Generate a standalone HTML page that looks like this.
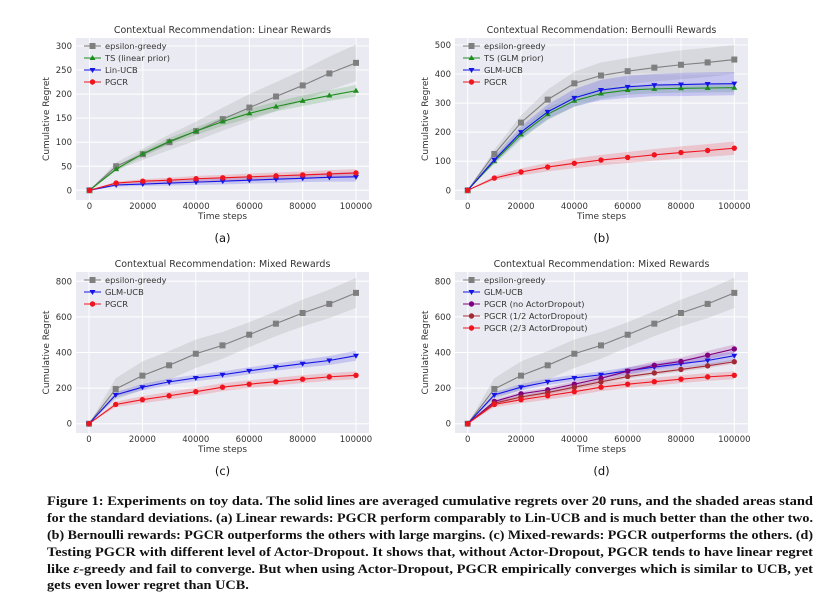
<!DOCTYPE html>
<html><head><meta charset="utf-8">
<style>
body{margin:0;background:#fff;width:819px;height:601px;overflow:hidden}
svg text{font-family:"DejaVu Sans","Liberation Sans",sans-serif}
.cap{position:absolute;left:47px;top:493px;width:766px;font-family:"Liberation Serif",serif;font-weight:bold;font-size:13px;line-height:16.9px;color:#111}
.cap div{white-space:nowrap;height:16.9px}
.cap span{display:inline-block;white-space:nowrap;transform-origin:0 50%}
</style></head><body>
<svg id="fig" width="819" height="490" style="position:absolute;left:0;top:0"></svg>
<div class="cap">
<div><span class="fit">Figure 1: Experiments on toy data. The solid lines are averaged cumulative regrets over 20 runs, and the shaded areas stand</span></div>
<div><span class="fit">for the standard deviations. (a) Linear rewards: PGCR perform comparably to Lin-UCB and is much better than the other two.</span></div>
<div><span class="fit">(b) Bernoulli rewards: PGCR outperforms the others with large margins. (c) Mixed-rewards: PGCR outperforms the others. (d)</span></div>
<div><span class="fit">Testing PGCR with different level of Actor-Dropout. It shows that, without Actor-Dropout, PGCR tends to have linear regret</span></div>
<div><span class="fit">like <i>ε</i>-greedy and fail to converge. But when using Actor-Dropout, PGCR empirically converges which is similar to UCB, yet</span></div>
<div><span class="last">gets even lower regret than UCB.</span></div>
</div>
<script>
const steps=[0,10000,20000,30000,40000,50000,60000,70000,80000,90000,100000];
const xTicks=[0,20000,40000,60000,80000,100000];
// panel a
const aEps=[0,50,75,100,123,148,172,195,218,243,265];
const aEpsSd=[0,8,12,16,20,24,28,30,32,35,38];
const aTS=[0,44,76,102,123,143,160,174,186,197,207];
const aTSSd=[0,4,6,7,8,9,10,10,11,11,12];
const aUCB=[0,11,13,15,17,19,21,23,25,27,28];
const aUCBSd=[0,3,4,5,6,7,7,8,8,9,10];
const aPG=[0,15,19,21,24,26,28,30,32,34,36];
const aPGSd=[0,3,4,5,6,6,7,7,7,8,8];
const aYTicks=[0,50,100,150,200,250,300];
// panel b
const bEps=[0,125,233,312,368,395,410,422,432,440,450];
const bEpsSd=[0,15,25,35,40,45,45,48,50,50,50];
const bTS=[0,100,192,262,308,333,345,349,351,352,353];
const bTSSd=[0,10,18,20,20,18,16,15,15,15,15];
const bUCB=[0,105,200,270,318,345,356,362,364,366,367];
const bUCBSd=[0,12,20,25,30,35,38,38,40,40,40];
const bPG=[0,42,63,80,93,104,113,122,130,137,145];
const bPGSd=[0,8,12,15,17,18,19,20,21,22,23];
const bYTicks=[0,100,200,300,400,500];
// panel c / d
const cEps=[0,195,270,328,393,440,500,562,622,673,735];
const cEpsSd=[0,60,80,80,80,75,70,70,75,80,85];
const cUCB=[0,162,205,235,257,275,297,318,337,355,382];
const cUCBSd=[0,15,18,18,18,18,20,20,22,25,28];
const cPG=[0,108,135,157,180,205,222,236,250,263,272];
const cPGSd=[0,15,20,22,22,22,22,22,22,22,22];
const dNo=[0,125,168,190,222,255,295,328,350,385,420];
const dNoSd=[0,10,12,14,16,18,20,22,22,24,25];
const dHalf=[0,115,150,175,205,235,265,285,305,325,348];
const dHalfSd=[0,8,10,10,12,12,12,12,12,12,12];
const cYTicks=[0,200,400,600,800];

let scSum=0,scN=0;
document.querySelectorAll('.cap .fit').forEach(s=>{const w=s.getBoundingClientRect().width;const sc=766/w;scSum+=sc;scN++;s.style.transform='scaleX('+sc+')';});
document.querySelectorAll('.cap .last').forEach(s=>{s.style.transform='scaleX('+(scSum/scN)+')';});

const NS="http://www.w3.org/2000/svg";
const svg=document.getElementById('fig');
function mk(tag,attrs,parent){const e=document.createElementNS(NS,tag);for(const k in attrs)e.setAttribute(k,attrs[k]);(parent||svg).appendChild(e);return e;}
const COL={gray:'#7f7f7f',green:'#1e8c1e',blue:'#1414e6',red:'#f0141e',purple:'#800080',brown:'#a22a35'};

function panel(p){
  const g=mk('g',{});
  
  
  const X=v=>p.x0+(v/100000)*(p.x1-p.x0);
  const Y=v=>p.y0-(v/p.yMax)*(p.y0-p.yTop);
  const bg=mk('rect',{x:p.bx0,y:p.by0,width:p.bx1-p.bx0,height:p.by1-p.by0,fill:'#eaeaf2'},g);
  
  
  xTicks.forEach(t=>{
    mk('line',{x1:X(t),x2:X(t),y1:p.by0,y2:p.by1,stroke:'#fff','stroke-width':1},g);
    const tx=mk('text',{x:X(t),y:p.by1+9,'font-size':8.5,'text-anchor':'middle',fill:'#333'},g);tx.textContent=t;
    
    
  });
  p.yTicks.forEach(t=>{
    mk('line',{x1:p.bx0,x2:p.bx1,y1:Y(t),y2:Y(t),stroke:'#fff','stroke-width':1},g);
    const tx=mk('text',{x:p.bx0-4,y:Y(t)+3,'font-size':8.5,'text-anchor':'end',fill:'#333'},g);tx.textContent=t;
    
    
  });
  const ti=mk('text',{x:(p.bx0+p.bx1)/2,y:p.by0-5,'font-size':9.5,'text-anchor':'middle',fill:'#333'},g);ti.textContent=p.title;
  
  
  const xl=mk('text',{x:(p.bx0+p.bx1)/2,y:p.by1+19,'font-size':9,'text-anchor':'middle',fill:'#333'},g);xl.textContent='Time steps';
  
  
  const yc=(p.by0+p.by1)/2;
  const yl=mk('text',{x:p.bx0-27,y:yc,'font-size':9,'text-anchor':'middle',fill:'#333',transform:`rotate(-90 ${p.bx0-27} ${yc})`},g);yl.textContent='Cumulative Regret';
  
  
  const lb=mk('text',{x:(p.bx0+p.bx1)/2,y:p.by1+42,'font-size':11.5,'text-anchor':'middle',fill:'#111','font-family':'Liberation Serif'},g);lb.textContent=p.label;
  
  
  p.series.forEach(s=>{
    let d='';steps.forEach((t,i)=>{d+=(i?'L':'M')+X(t)+','+Y(s.v[i]+s.sd[i]);});
    for(let i=steps.length-1;i>=0;i--)d+='L'+X(steps[i])+','+Y(Math.max(0,s.v[i]-s.sd[i]));
    const b=mk('path',{d:d+'Z',fill:COL[s.c],opacity:0.17},g);
    
    
  });
  p.series.forEach(s=>{
    const pts=steps.map((t,i)=>X(t)+','+Y(s.v[i])).join(' ');
    const l=mk('polyline',{points:pts,fill:'none',stroke:COL[s.c],'stroke-width':1.1},g);
    
    
    steps.forEach((t,i)=>marker(g,s.m,X(t),Y(s.v[i]),COL[s.c]));
  });
  p.series.forEach((s,i)=>{
    const ly=p.by0+8+i*12;
    mk('line',{x1:p.bx0+8,x2:p.bx0+25,y1:ly,y2:ly,stroke:COL[s.c],'stroke-width':1.1},g);
    marker(g,s.m,p.bx0+16.5,ly,COL[s.c]);
    const t=mk('text',{x:p.bx0+29,y:ly+3,'font-size':8.3,fill:'#333'},g);t.textContent=s.n;
    
    
  });
}
function marker(g,m,x,y,c){
  let e;
  if(m==='s')e=mk('rect',{x:x-3,y:y-3,width:6,height:6,fill:c},g);
  else if(m==='^')e=mk('path',{d:`M${x},${y-3}L${x+3},${y+2}L${x-3},${y+2}Z`,fill:c},g);
  else if(m==='v')e=mk('path',{d:`M${x},${y+3}L${x+3},${y-2}L${x-3},${y-2}Z`,fill:c},g);
  else e=mk('circle',{cx:x,cy:y,r:2.7,fill:c},g);
  
  
}
panel({name:'panel-a-linear',title:'Contextual Recommendation: Linear Rewards',label:'(a)',x0:89.5,x1:356,y0:190.3,yTop:46,yMax:300,bx0:76,bx1:369,by0:38,by1:200,yTicks:aYTicks,
 series:[{n:'epsilon-greedy',c:'gray',m:'s',v:aEps,sd:aEpsSd},{n:'TS (linear prior)',c:'green',m:'^',v:aTS,sd:aTSSd},{n:'Lin-UCB',c:'blue',m:'v',v:aUCB,sd:aUCBSd},{n:'PGCR',c:'red',m:'o',v:aPG,sd:aPGSd}]});
panel({name:'panel-b-bernoulli',title:'Contextual Recommendation: Bernoulli Rewards',label:'(b)',x0:467.7,x1:734.3,y0:190.3,yTop:45,yMax:500,bx0:455,bx1:748,by0:38,by1:200,yTicks:bYTicks,
 series:[{n:'epsilon-greedy',c:'gray',m:'s',v:bEps,sd:bEpsSd},{n:'TS (GLM prior)',c:'green',m:'^',v:bTS,sd:bTSSd},{n:'GLM-UCB',c:'blue',m:'v',v:bUCB,sd:bUCBSd},{n:'PGCR',c:'red',m:'o',v:bPG,sd:bPGSd}]});
panel({name:'panel-c-mixed',title:'Contextual Recommendation: Mixed Rewards',label:'(c)',x0:89,x1:356,y0:423.7,yTop:281.3,yMax:800,bx0:76,bx1:369,by0:272,by1:433,yTicks:cYTicks,
 series:[{n:'epsilon-greedy',c:'gray',m:'s',v:cEps,sd:cEpsSd},{n:'GLM-UCB',c:'blue',m:'v',v:cUCB,sd:cUCBSd},{n:'PGCR',c:'red',m:'o',v:cPG,sd:cPGSd}]});
panel({name:'panel-d-dropout',title:'Contextual Recommendation: Mixed Rewards',label:'(d)',x0:467.7,x1:734.3,y0:423.7,yTop:281.3,yMax:800,bx0:455,bx1:748,by0:272,by1:433,yTicks:cYTicks,
 series:[{n:'epsilon-greedy',c:'gray',m:'s',v:cEps,sd:cEpsSd},{n:'GLM-UCB',c:'blue',m:'v',v:cUCB,sd:cUCBSd},{n:'PGCR (no ActorDropout)',c:'purple',m:'o',v:dNo,sd:dNoSd},{n:'PGCR (1/2 ActorDropout)',c:'brown',m:'o',v:dHalf,sd:dHalfSd},{n:'PGCR (2/3 ActorDropout)',c:'red',m:'o',v:cPG,sd:cPGSd}]});
</script>
</body></html>
